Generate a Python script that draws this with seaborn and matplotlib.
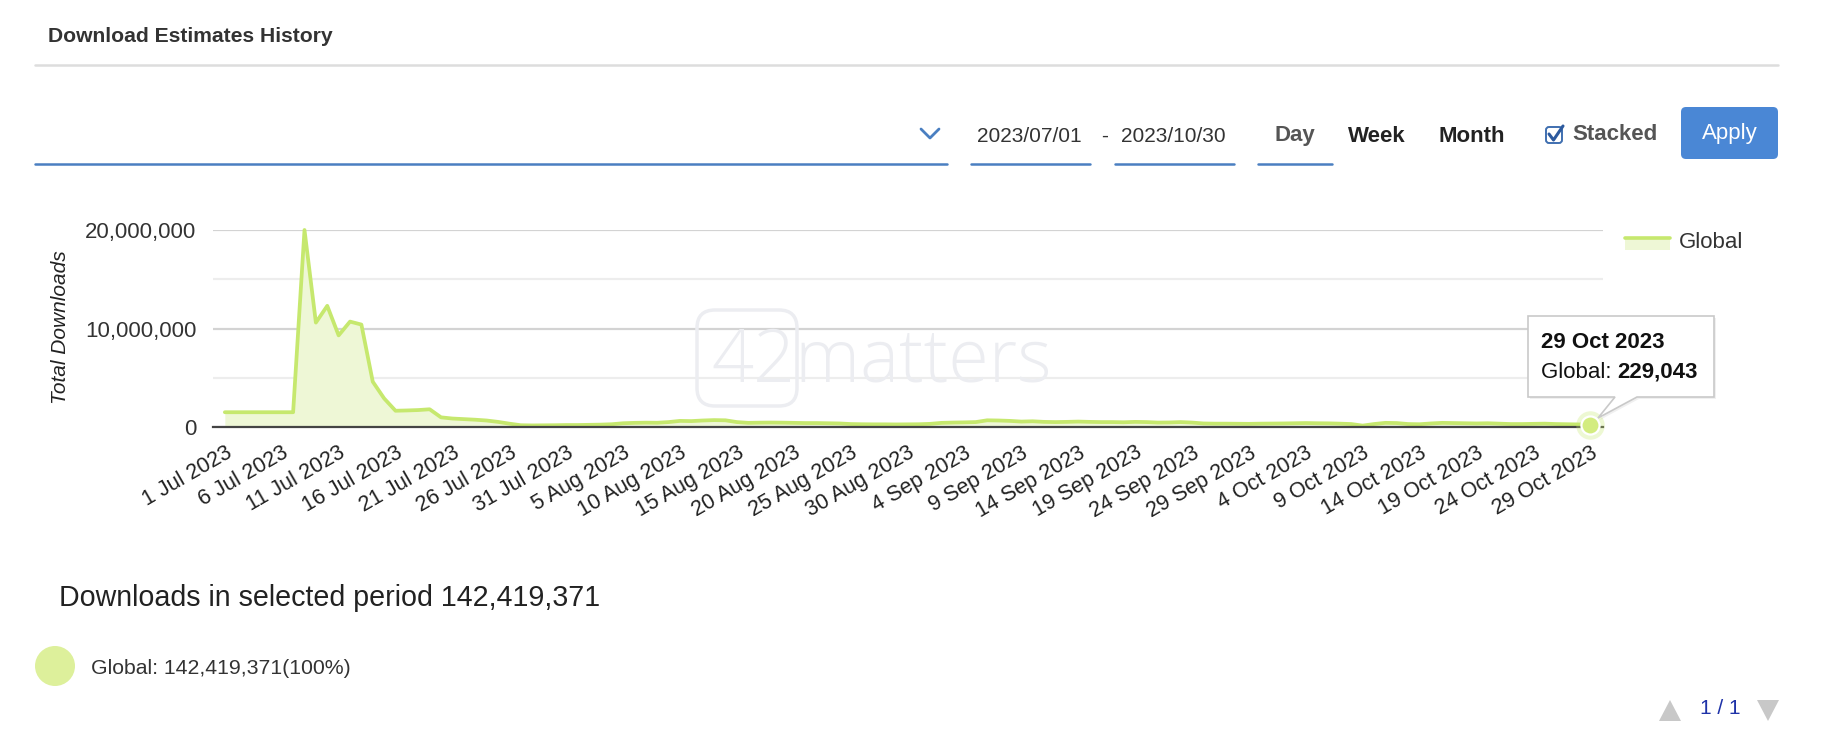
import matplotlib
matplotlib.use("Agg")
import matplotlib.pyplot as plt
import matplotlib.transforms as mtransforms
from matplotlib.patches import FancyBboxPatch, Polygon, Circle
from matplotlib.lines import Line2D
from matplotlib.ticker import FuncFormatter
import pandas as pd
import seaborn as sns

# ---------------- data ----------------
start_date = "2023-07-01"
global_downloads = [
    # 1 - 31 Jul
    1500000, 1500000, 1500000, 1500000, 1500000, 1500000, 1500000,
    20000000, 10600000, 12300000, 9300000, 10700000, 10400000, 4600000,
    2900000, 1650000, 1680000, 1720000, 1800000, 980000, 860000,
    800000, 740000, 660000, 520000, 340000, 180000, 160000,
    170000, 180000, 200000,
    # 1 - 31 Aug
    200000, 220000, 240000, 280000, 380000, 420000, 440000, 430000,
    500000, 620000, 600000, 660000, 700000, 680000, 500000, 420000,
    440000, 450000, 440000, 420000, 400000, 400000, 380000, 360000,
    300000, 280000, 270000, 270000, 260000, 270000, 280000,
    # 1 - 30 Sep
    320000, 420000, 450000, 470000, 500000, 680000, 660000, 620000,
    550000, 580000, 520000, 500000, 520000, 550000, 520000, 500000,
    500000, 480000, 520000, 500000, 450000, 460000, 500000, 450000,
    360000, 340000, 340000, 330000, 320000, 340000,
    # 1 - 29 Oct
    350000, 360000, 380000, 400000, 380000, 370000, 340000, 300000,
    140000, 300000, 420000, 400000, 300000, 280000, 360000, 420000,
    400000, 380000, 360000, 380000, 340000, 300000, 300000, 320000,
    340000, 300000, 280000, 260000, 229043,
]
series_name = "Global"
total_downloads = 142419371
ytick_values = [0, 10000000, 20000000]
yminor_values = [5000000, 15000000]
xtick_every_days = 5
range_start_label = "2023/07/01"
range_end_label = "2023/10/30"
period_buttons = ["Day", "Week", "Month"]

# ---------------- style ----------------
LINE = "#c6e86e"
FILL = "#eef7d6"
BLUE = "#4a7fc1"
TXT = "#333333"

sns.set_theme(style="white")
plt.rcParams["font.family"] = ["Liberation Sans", "DejaVu Sans"]

W, H = 1822, 738
fig = plt.figure(figsize=(W / 100, H / 100), dpi=100)
fig.patch.set_facecolor("white")
# reference-pixel transform (x right, y down)
PIX = mtransforms.Affine2D().scale(1, -1).translate(0, H).scale(1 / fig.dpi) + fig.dpi_scale_trans

ax = fig.add_axes([213 / W, 1 - 427 / H, 1390 / W, 197 / H])
ax.set_facecolor("white")

dates = pd.date_range(start_date, periods=len(global_downloads), freq="D")
df = pd.DataFrame({"date": dates, "downloads": global_downloads})

ax.fill_between(df["date"], 0, df["downloads"], color=FILL, linewidth=0, zorder=2)
sns.lineplot(data=df, x="date", y="downloads", ax=ax, color=LINE, linewidth=2.7,
             zorder=3, clip_on=False)

ax.set_xlim(dates[0] - pd.Timedelta(hours=25), dates[-1] + pd.Timedelta(hours=27))
ax.set_ylim(0, ytick_values[-1])

# grid
ax.set_axisbelow(True)
ax.set_yticks(ytick_values)
ax.set_yticks(yminor_values, minor=True)
ax.yaxis.grid(True, which="major", color="#d3d3d3", linewidth=1.6)
ax.yaxis.grid(True, which="minor", color="#ededed", linewidth=1.6)
ax.xaxis.grid(False)
ax.yaxis.set_major_formatter(FuncFormatter(lambda v, p: f"{int(v):,}"))
ax.tick_params(axis="y", which="both", length=0, pad=12, labelsize=16, labelcolor=TXT)

tick_dates = dates[::xtick_every_days]
ax.set_xticks(tick_dates)
ax.set_xticklabels([f"{d.day} {d.strftime('%b %Y')}" for d in tick_dates],
                   rotation=30, ha="right", rotation_mode="anchor")
ax.tick_params(axis="x", length=0, pad=11, labelsize=15.5, labelcolor="#222222")
for s in ["top", "right", "left"]:
    ax.spines[s].set_visible(False)
ax.spines["bottom"].set_color("#444444")
ax.spines["bottom"].set_linewidth(1.6)
ax.spines["bottom"].set_zorder(4)
ax.set_xlabel("")
ax.set_ylabel("")

# watermark
ax.text(711, 362, "42matters", transform=PIX, fontsize=53, color="#ecedf1",
        family=["Open Sans", "DejaVu Sans"], fontweight="light", va="center", ha="left", zorder=0.6)
ax.add_patch(FancyBboxPatch((697, 310), 100, 96, boxstyle="round,pad=0,rounding_size=18",
                            transform=PIX, fill=False, edgecolor="#ecedf1", linewidth=2.5, zorder=0.6))

# hover marker on last point
ax.scatter([dates[-1]], [global_downloads[-1]], s=420, color=LINE, alpha=0.3, zorder=5,
           clip_on=False, linewidths=0)
ax.scatter([dates[-1]], [global_downloads[-1]], s=170, color="#d3ec80", edgecolor="white",
           linewidths=1.6, zorder=6, clip_on=False)

# y axis title
fig.text(60, 327, "Total Downloads", transform=PIX, rotation=90, ha="center", va="center",
         fontsize=15, fontstyle="italic", color="#222222")

# legend (custom drawn)
fig.add_artist(FancyBboxPatch((1625, 238), 45, 12, boxstyle="square,pad=0", transform=PIX,
                              facecolor=FILL, edgecolor="none"))
fig.add_artist(Line2D([1625, 1670], [238, 238], transform=PIX, color=LINE, linewidth=2.6))
fig.text(1679, 242, series_name, transform=PIX, fontsize=16, color=TXT, va="center", ha="left")

# tooltip
bx0, bx1, by0, by1 = 1528, 1714, 316, 397
tip = (1598, 418)
tooltip_poly = [(bx0, by0), (bx1, by0), (bx1, by1), (1637, by1), tip, (1615, by1), (bx0, by1)]
shadow = [(x + 2, y + 2) for x, y in tooltip_poly]
fig.add_artist(Polygon(shadow, closed=True, transform=PIX, facecolor="#000000", alpha=0.06,
                       edgecolor="none"))
fig.add_artist(Polygon(tooltip_poly, closed=True, transform=PIX, facecolor="white",
                       edgecolor="#c9c9c9", linewidth=1.2))
fig.text(1541, 342, f"{dates[-1].day} {dates[-1].strftime('%b %Y')}", transform=PIX,
         fontsize=16, fontweight="bold", color="#111111", va="center", ha="left")
t_lab = fig.text(1541, 372, f"{series_name}: ", transform=PIX, fontsize=16, color="#111111",
                 va="center", ha="left")
renderer = fig.canvas.get_renderer()
bb = t_lab.get_window_extent(renderer)
fig.text(bb.x1, 372, f"{global_downloads[-1]:,}", transform=PIX, fontsize=16, fontweight="bold",
         color="#111111", va="center", ha="left")

# ---------------- header / controls ----------------
fig.text(48, 36, "Download Estimates History", transform=PIX, fontsize=15.2, fontweight="bold",
         color=TXT, va="center", ha="left")
fig.add_artist(Line2D([35, 1778], [65, 65], transform=PIX, color="#dddddd", linewidth=1.8))

fig.add_artist(Line2D([35, 947], [164, 164], transform=PIX, color=BLUE, linewidth=1.8))
fig.add_artist(Line2D([921, 930, 939], [129, 138, 129], transform=PIX, color=BLUE, linewidth=2))
fig.add_artist(Line2D([971, 1090], [164, 164], transform=PIX, color=BLUE, linewidth=1.8))
fig.add_artist(Line2D([1115, 1234], [164, 164], transform=PIX, color=BLUE, linewidth=1.8))
fig.add_artist(Line2D([1258, 1332], [164, 164], transform=PIX, color=BLUE, linewidth=1.8))
fig.text(977, 136, range_start_label, transform=PIX, fontsize=15, color=TXT, va="center", ha="left")
fig.text(1101, 136, "-", transform=PIX, fontsize=15, color=TXT, va="center", ha="left")
fig.text(1121, 136, range_end_label, transform=PIX, fontsize=15, color=TXT, va="center", ha="left")
fig.text(1275, 136, period_buttons[0], transform=PIX, fontsize=16, fontweight="bold",
         color="#555555", va="center", ha="left")
fig.text(1348, 136, period_buttons[1], transform=PIX, fontsize=16, fontweight="bold",
         color="#222222", va="center", ha="left")
fig.text(1438, 136, period_buttons[2], transform=PIX, fontsize=16, fontweight="bold",
         color="#222222", va="center", ha="left")
# checkbox
fig.add_artist(FancyBboxPatch((1546, 127), 16, 16, boxstyle="round,pad=0,rounding_size=3",
                              transform=PIX, facecolor="white", edgecolor="#3f6fb0", linewidth=1.4))
fig.add_artist(Line2D([1549, 1553.5, 1563], [134, 140, 126], transform=PIX, color="#2d5a9e",
                      linewidth=2.2))
fig.text(1572, 135, "Stacked", transform=PIX, fontsize=16, fontweight="bold", color="#555555",
         va="center", ha="left")
# apply button
fig.add_artist(FancyBboxPatch((1681, 107), 97, 52, boxstyle="round,pad=0,rounding_size=5",
                              transform=PIX, facecolor="#4a87d5", edgecolor="none"))
fig.text(1729.5, 134, "Apply", transform=PIX, fontsize=16, color="white", va="center", ha="center")

# ---------------- summary ----------------
fig.text(59, 598, f"Downloads in selected period {total_downloads:,}", transform=PIX,
         fontsize=20.6, color="#222222", va="center", ha="left")
fig.add_artist(Circle((55, 666), 20, transform=PIX, facecolor="#ddf09b", edgecolor="none"))
fig.text(91, 668, f"{series_name}: {total_downloads:,}(100%)", transform=PIX, fontsize=15.3,
         color=TXT, va="center", ha="left")

# pager
fig.add_artist(Polygon([(1659, 721), (1681, 721), (1670, 700)], closed=True, transform=PIX,
                       facecolor="#c8c8c8", edgecolor="none"))
fig.add_artist(Polygon([(1757, 700), (1779, 700), (1768, 721)], closed=True, transform=PIX,
                       facecolor="#c8c8c8", edgecolor="none"))
fig.text(1720, 709, "1 / 1", transform=PIX, fontsize=15, color="#1f33a8", va="center", ha="center")

fig.savefig("out.png", dpi=100, facecolor="white")
